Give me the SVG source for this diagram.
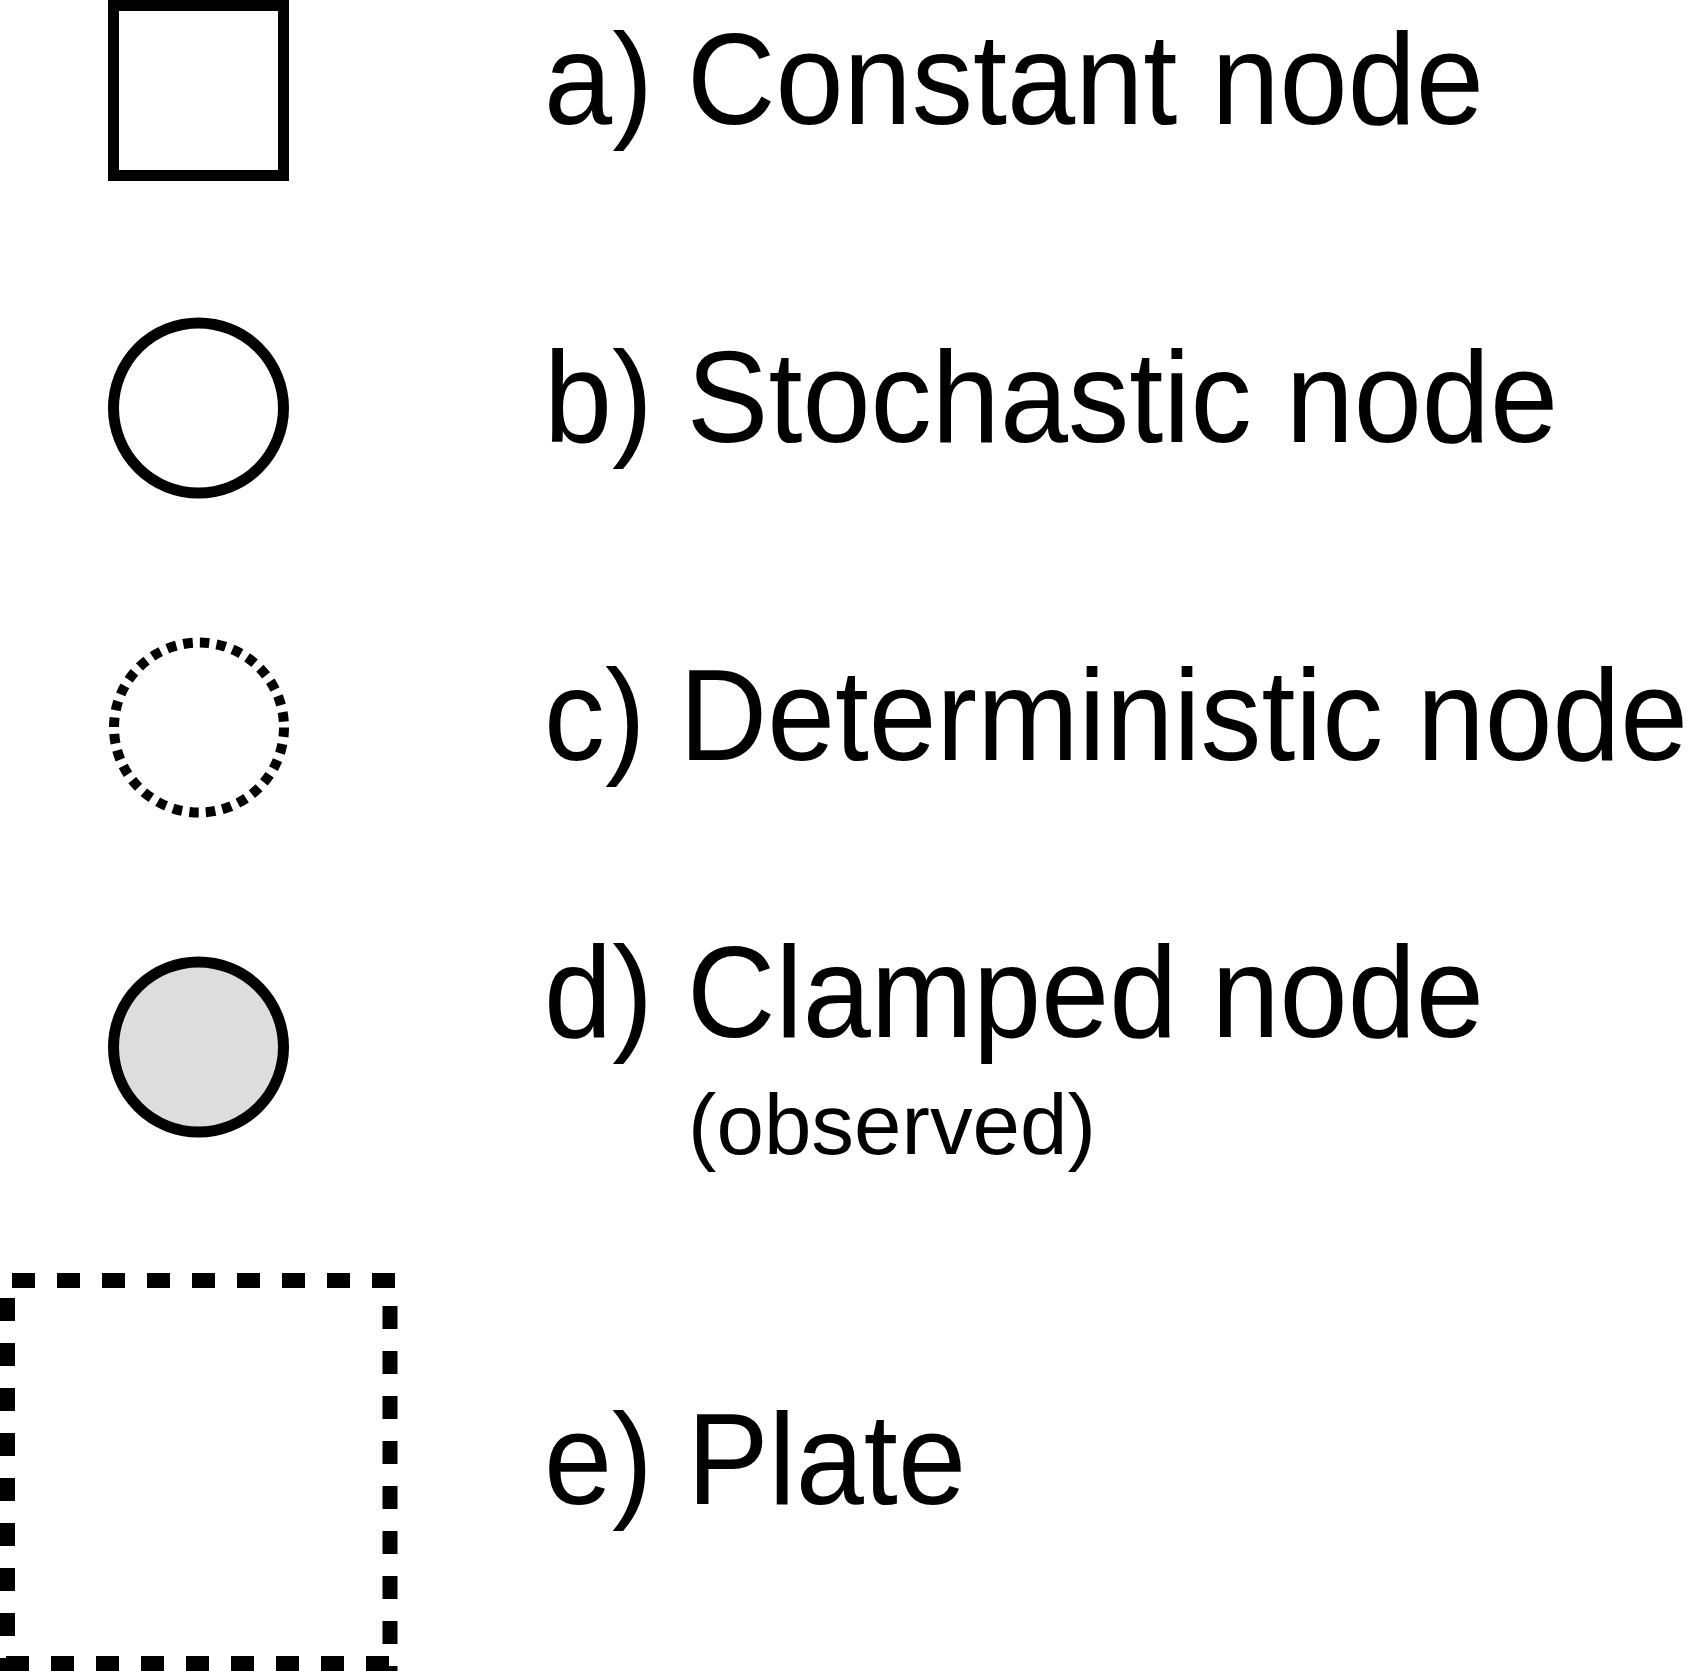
<svg xmlns="http://www.w3.org/2000/svg" width="1692" height="1671" viewBox="0 0 1692 1671">
<style>
.lbl{font-family:"Liberation Sans",Arial,Helvetica,sans-serif;font-size:130px;fill:#000}
.sub{font-family:"Liberation Sans",Arial,Helvetica,sans-serif;font-size:85px;fill:#000}
.shape{stroke:#000;stroke-width:11;fill:#fff}
.plate{stroke:#000;stroke-width:15;fill:none;stroke-dasharray:23 22}
</style>
<rect width="1692" height="1671" fill="#fff"/>
<g id="constant-node">
<rect class="shape" x="113.5" y="5.5" width="170" height="170"/>
<text class="lbl" x="544" y="124" textLength="940" lengthAdjust="spacingAndGlyphs">a) Constant node</text>
</g>
<g id="stochastic-node">
<circle class="shape" cx="198.5" cy="408" r="85"/>
<text class="lbl" x="544" y="441.5" textLength="1014" lengthAdjust="spacingAndGlyphs">b) Stochastic node</text>
</g>
<g id="deterministic-node">
<circle cx="199" cy="727.5" r="85" fill="#fff" stroke="#000" stroke-width="10" stroke-dasharray="9.5 7.2"/>
<text class="lbl" x="544" y="760" textLength="1144" lengthAdjust="spacingAndGlyphs">c) Deterministic node</text>
</g>
<g id="clamped-node">
<circle cx="198.5" cy="1047" r="85" fill="#dddddd" stroke="#000" stroke-width="11"/>
<text class="lbl" x="544" y="1037" textLength="940" lengthAdjust="spacingAndGlyphs">d) Clamped node</text>
<text class="sub" x="688" y="1154" textLength="408" lengthAdjust="spacingAndGlyphs">(observed)</text>
</g>
<g id="plate">
<line class="plate" x1="12" y1="1280.5" x2="397.5" y2="1280.5"/>
<line class="plate" x1="390" y1="1306" x2="390" y2="1671"/>
<line class="plate" x1="389" y1="1663.5" x2="0" y2="1663.5"/>
<line class="plate" x1="7.5" y1="1298" x2="7.5" y2="1671"/>
<text class="lbl" x="544" y="1504" textLength="422" lengthAdjust="spacingAndGlyphs">e) Plate</text>
</g>
</svg>
